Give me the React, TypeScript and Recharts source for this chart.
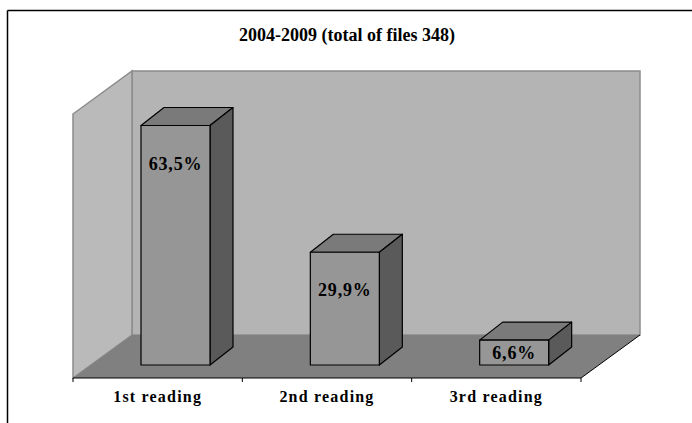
import React from 'react';
import { BarChart, Bar, XAxis, YAxis, LabelList, usePlotArea } from 'recharts';

const categories = ['1st reading', '2nd reading', '3rd reading'];
const shares = [63.5, 29.9, 6.6];
const title = '2004-2009 (total of files 348)';

const data = categories.map((name, i) => ({ name, value: shares[i] }));

const FONT = "'Liberation Serif', 'Times New Roman', serif";
// offsets of the 3d box: front of the floor and back wall relative to the bar plane
const FRONT = { dx: -18, dy: 13 };
const BACK = { dx: 41, dy: -30 };
const BAR_DEPTH = { dx: 23, dy: -18 };

function Room() {
  const area = usePlotArea();
  if (!area) return null;
  const { x, y, width, height } = area;
  const bottom = y + height;
  const fl = x + FRONT.dx, fr = x + width + FRONT.dx, fy = bottom + FRONT.dy;
  const bl = x + BACK.dx, br = x + width + BACK.dx, by = bottom + BACK.dy;
  const topBack = y + BACK.dy, topFront = y + FRONT.dy;
  const step = (fr - fl) / categories.length;
  return (
    <g>
      <line x1={7.5} y1={10.5} x2={692} y2={10.5} stroke="#000" strokeWidth={1.5} />
      <line x1={7.5} y1={10.5} x2={7.5} y2={423} stroke="#000" strokeWidth={1.5} />
      <text x={347} y={41} textAnchor="middle" fontFamily={FONT} fontWeight="bold" fontSize={18}>
        {title}
      </text>
      <polygon points={`${bl},${topBack} ${br},${topBack} ${br},${by} ${bl},${by}`} fill="#b4b4b4" stroke="#8c8c8c" strokeWidth={1.5} />
      <polygon points={`${fl},${topFront} ${bl},${topBack} ${bl},${by} ${fl},${fy}`} fill="#bababa" stroke="#8c8c8c" strokeWidth={1.5} />
      <polygon points={`${fl},${fy} ${fr},${fy} ${br},${by} ${bl},${by}`} fill="#808080" />
      <line x1={fl} y1={fy} x2={fr} y2={fy} stroke="#000" />
      <line x1={fr} y1={fy} x2={br} y2={by} stroke="#000" />
      {Array.from({ length: categories.length + 1 }).map((_, i) => (
        <line key={i} x1={fl + i * step} y1={fy} x2={fl + i * step} y2={fy + 4} stroke="#000" />
      ))}
    </g>
  );
}

function Box(props: any) {
  const { x, y, width, height } = props;
  const { dx, dy } = BAR_DEPTH;
  return (
    <g stroke="#000" strokeWidth={1.2} strokeLinejoin="round">
      <polygon points={`${x},${y} ${x + dx},${y + dy} ${x + width + dx},${y + dy} ${x + width},${y}`} fill="#7a7a7a" />
      <polygon points={`${x + width},${y} ${x + width + dx},${y + dy} ${x + width + dx},${y + height + dy} ${x + width},${y + height}`} fill="#5a5a5a" />
      <rect x={x} y={y} width={width} height={height} fill="#969696" />
    </g>
  );
}

function ValueLabel(props: any) {
  const { x, y, width, height, value } = props;
  return (
    <text x={x + width / 2} y={y + Math.min(38, height / 2)} textAnchor="middle" dominantBaseline="central"
      fontFamily={FONT} fontWeight="bold" fontSize={18} letterSpacing={0.8} fill="#000">
      {String(value).replace('.', ',')}%
    </text>
  );
}

function CategoryTick({ x, y, payload }: any) {
  return (
    <text x={x + FRONT.dx} y={y + 37} textAnchor="middle" fontFamily={FONT} fontWeight="bold" fontSize={16} letterSpacing={1.2} fill="#000">
      {payload.value}
    </text>
  );
}

export default function App() {
  return (
    <div style={{ position: 'absolute', left: 0, top: 0, width: 692, height: 423, background: '#fff', overflow: 'hidden' }}>
      <BarChart width={692} height={423} data={data} margin={{ top: 101, right: 93, bottom: 28, left: 91 }} barSize={69}>
        <Room />
        <XAxis dataKey="name" height={30} axisLine={false} tickLine={false} tickSize={0} tickMargin={0} tick={<CategoryTick />} interval={0} />
        <YAxis hide domain={[0, 70]} />
        <Bar dataKey="value" shape={<Box />} isAnimationActive={false}>
          <LabelList dataKey="value" content={<ValueLabel />} />
        </Bar>
      </BarChart>
    </div>
  );
}
